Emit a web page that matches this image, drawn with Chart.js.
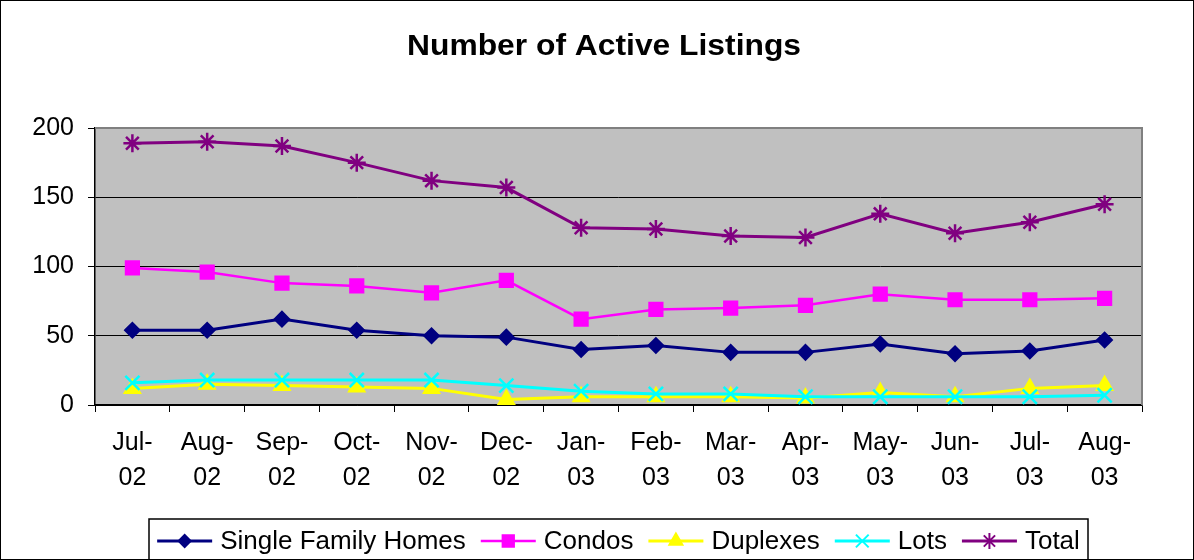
<!DOCTYPE html>
<html>
<head>
<meta charset="utf-8">
<script src="https://cdn.jsdelivr.net/npm/chart.js@4/dist/chart.umd.min.js"></script>
<style>
  html, body { margin: 0; padding: 0; background: #fff; }
  #wrap { width: 1194px; height: 560px; }
</style>
</head>
<body>
<div id="wrap"><canvas id="listingsChart" width="1194" height="560"></canvas></div>
<script>
// Chart data
const months = [
  ["Jul-", "02"], ["Aug-", "02"], ["Sep-", "02"], ["Oct-", "02"], ["Nov-", "02"],
  ["Dec-", "02"], ["Jan-", "03"], ["Feb-", "03"], ["Mar-", "03"], ["Apr-", "03"],
  ["May-", "03"], ["Jun-", "03"], ["Jul-", "03"], ["Aug-", "03"],
];
const singleFamily = [54, 54, 62, 54, 50, 49, 40, 43, 38, 38, 44, 37, 39, 47];
const condos = [99, 96, 88, 86, 81, 90, 62, 69, 70, 72, 80, 76, 76, 77];
const duplexes = [12, 15, 14, 13, 12, 4, 6, 6, 6, 5, 9, 6, 12, 14];
const lots = [16, 18, 18, 18, 18, 14, 10, 8, 8, 6, 6, 6, 6, 7];
const totals = [189, 190, 187, 175, 162, 157, 128, 127, 122, 121, 138, 124, 132, 145];
const yTicks = [0, 50, 100, 150, 200];

const FONT = "Arial, 'Liberation Sans', sans-serif";

// Series look (Excel style)
const series = [
  { label: "Single Family Homes", data: singleFamily, color: "#000080", style: "rectRot", radius: 7, width: 3 },
  { label: "Condos", data: condos, color: "#FF00FF", style: "rect", radius: 9, width: 2.5 },
  { label: "Duplexes", data: duplexes, color: "#FFFF00", style: "triangle", radius: 8.5, width: 3 },
  { label: "Lots", data: lots, color: "#00FFFF", style: "crossRot", radius: 10, width: 3 },
  { label: "Total", data: totals, color: "#800080", style: "star", radius: 9, width: 3 },
];

// Grey plot background, plot border, title, legend and outer frame
const excelFrame = {
  id: "excelFrame",
  beforeDraw(chart) {
    const { ctx, chartArea: a } = chart;
    ctx.save();
    ctx.fillStyle = "#fff";
    ctx.fillRect(0, 0, chart.width, chart.height);
    ctx.fillStyle = "#C0C0C0";
    ctx.fillRect(a.left, a.top, a.right - a.left, a.bottom - a.top);
    ctx.restore();
  },
  beforeDatasetsDraw(chart) {
    const { ctx, chartArea: a } = chart;
    ctx.save();
    ctx.strokeStyle = "#808080";
    ctx.lineWidth = 2;
    ctx.beginPath();
    ctx.moveTo(a.left, a.top);
    ctx.lineTo(a.right, a.top);
    ctx.lineTo(a.right, a.bottom);
    ctx.stroke();
    ctx.restore();
  },
  afterDraw(chart) {
    const ctx = chart.ctx;
    ctx.save();

    // outer frame
    ctx.strokeStyle = "#000";
    ctx.lineWidth = 1;
    ctx.strokeRect(0.5, 0.5, chart.width - 1, chart.height - 1);

    // title (stretched a bit to the reference width)
    ctx.fillStyle = "#000";
    ctx.font = "bold 30px " + FONT;
    ctx.textAlign = "center";
    ctx.textBaseline = "middle";
    const title = "Number of Active Listings";
    const sx = 394 / ctx.measureText(title).width;
    ctx.save();
    ctx.translate(604, 47);
    ctx.scale(sx, 1);
    ctx.fillText(title, 0, 0);
    ctx.restore();

    // legend
    ctx.font = "26px " + FONT;
    ctx.textAlign = "left";
    const lineLen = 55, gapText = 8, gapItem = 15;
    let total = 0;
    series.forEach((s, i) => {
      total += lineLen + gapText + ctx.measureText(s.label).width;
      if (i < series.length - 1) total += gapItem;
    });
    const boxL = 149, boxR = 1088, boxT = 519, cy = 541;
    ctx.strokeStyle = "#000";
    ctx.lineWidth = 1.5;
    ctx.strokeRect(boxL, boxT, boxR - boxL, 60);
    let x = (boxL + boxR) / 2 - total / 2;
    series.forEach((s) => {
      ctx.strokeStyle = s.color;
      ctx.lineWidth = s.width;
      ctx.beginPath();
      ctx.moveTo(x, cy);
      ctx.lineTo(x + lineLen, cy);
      ctx.stroke();
      ctx.fillStyle = s.color;
      ctx.strokeStyle = s.color;
      ctx.lineWidth = 2;
      Chart.helpers.drawPoint(ctx, {
        pointStyle: s.style,
        radius: s.radius - 1,
        rotation: 0,
        borderWidth: 2,
      }, x + lineLen / 2, cy);
      ctx.fillStyle = "#000";
      ctx.fillText(s.label, x + lineLen + gapText, cy + 1);
      x += lineLen + gapText + ctx.measureText(s.label).width + gapItem;
    });
    ctx.restore();
  },
};

const datasets = series.map((s, i) => ({
  label: s.label,
  data: s.data,
  borderColor: s.color,
  backgroundColor: s.color,
  borderWidth: s.width,
  pointStyle: s.style,
  pointRadius: s.radius,
  pointBorderWidth: 2.5,
  pointBorderColor: s.color,
  pointBackgroundColor: s.color,
  tension: 0,
  fill: false,
  order: series.length - i,
}));

new Chart(document.getElementById("listingsChart"), {
  type: "line",
  data: { labels: months, datasets: datasets },
  plugins: [excelFrame],
  options: {
    responsive: false,
    animation: false,
    events: [],
    layout: { padding: { top: 128, right: 52, left: 0, bottom: 0 } },
    plugins: {
      legend: { display: false },
      title: { display: false },
      tooltip: { enabled: false },
    },
    scales: {
      x: {
        offset: true,
        afterFit: (s) => { s.height = 155; },
        grid: {
          offset: true,
          drawOnChartArea: false,
          drawTicks: true,
          tickLength: 7,
          color: "#000",
        },
        border: { display: true, color: "#000", width: 1.5 },
        ticks: {
          color: "#000",
          font: { family: FONT, size: 25, lineHeight: 1.38 },
          padding: 14,
          maxRotation: 0,
          autoSkip: false,
        },
      },
      y: {
        min: 0,
        max: 200,
        afterFit: (s) => { s.width = 95; },
        afterBuildTicks: (s) => { s.ticks = yTicks.map((v) => ({ value: v })); },
        grid: {
          color: "#000",
          lineWidth: 1,
          drawTicks: true,
          tickLength: 7,
        },
        border: { display: true, color: "#000", width: 1.5 },
        ticks: {
          color: "#000",
          font: { family: FONT, size: 25 },
          padding: 14,
        },
      },
    },
  },
});
</script>
</body>
</html>
